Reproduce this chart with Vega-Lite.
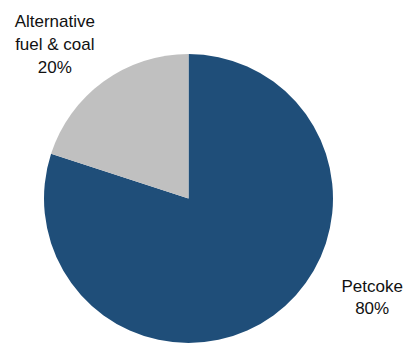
{
  "$schema": "https://vega.github.io/schema/vega-lite/v6.json",
  "width": 377,
  "height": 289,
  "autosize": {"type": "none"},
  "padding": {"left": 0, "top": 54, "right": 30, "bottom": 0},
  "background": "white",
  "view": {"stroke": null},
  "data": {
    "values": [
      {"category": "Petcoke", "share": 80, "label": "Petcoke\n80%"},
      {"category": "Alternative fuel & coal", "share": 20, "label": "Alternative\nfuel & coal\n20%"}
    ]
  },
  "encoding": {
    "theta": {"field": "share", "type": "quantitative", "stack": true},
    "order": {"field": "category", "sort": "descending"},
    "detail": {"field": "category"}
  },
  "layer": [
    {
      "mark": {"type": "arc", "outerRadius": 144.5},
      "encoding": {
        "color": {
          "field": "category",
          "type": "nominal",
          "scale": {"domain": ["Petcoke", "Alternative fuel & coal"], "range": ["#1F4E79", "#C0C0C0"]},
          "legend": null
        }
      }
    },
    {
      "mark": {"type": "text", "radius": 190, "dx": -22, "dy": -23, "lineBreak": "\n", "font": "Liberation Sans", "fontSize": 17, "lineHeight": 23, "align": "center", "baseline": "middle", "fill": "#111111"},
      "encoding": {
        "text": {"condition": {"test": "datum.category === 'Alternative fuel & coal'", "field": "label"}, "value": ""}
      }
    },
    {
      "mark": {"type": "text", "radius": 190, "dx": 72, "dy": -65, "lineBreak": "\n", "font": "Liberation Sans", "fontSize": 17, "lineHeight": 22, "align": "center", "baseline": "middle", "fill": "#111111"},
      "encoding": {
        "text": {"condition": {"test": "datum.category === 'Petcoke'", "field": "label"}, "value": ""}
      }
    }
  ]
}
